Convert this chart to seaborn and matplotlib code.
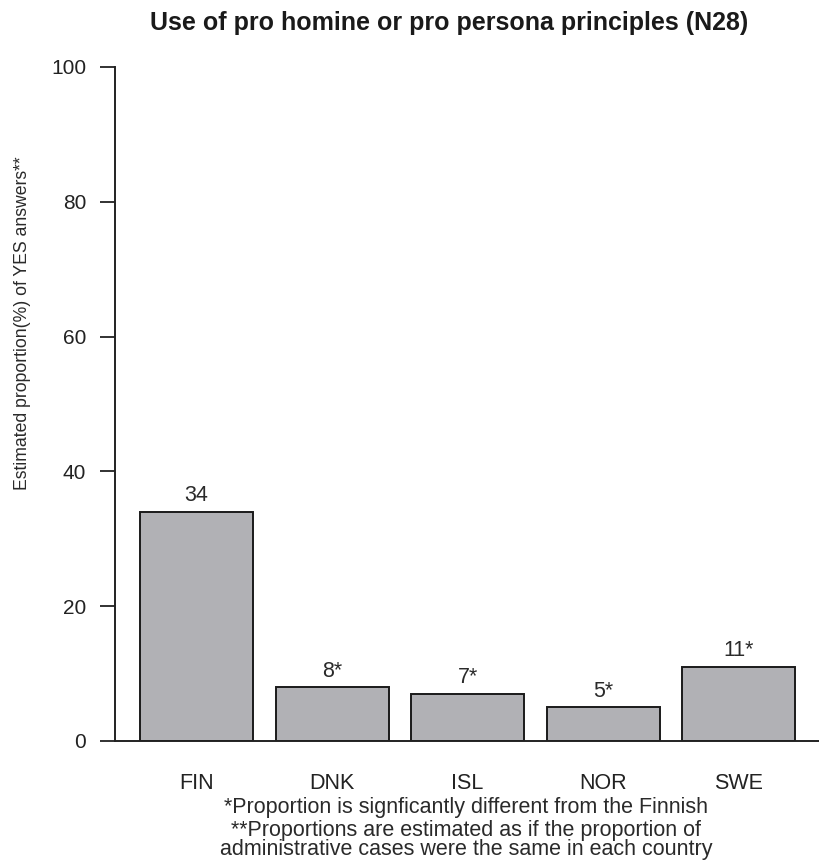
import seaborn as sns
import pandas as pd
import matplotlib.pyplot as plt

countries = ['FIN', 'DNK', 'ISL', 'NOR', 'SWE']
values = [34, 8, 7, 5, 11]
labels = ['34', '8*', '7*', '5*', '11*']

title = 'Use of pro homine or pro persona principles (N28)'
ylabel = 'Estimated proportion(%) of YES answers**'
note1 = '*Proportion is signficantly different from the Finnish'
note2 = '**Proportions are estimated as if the proportion of\nadministrative cases were the same in each country'

sns.set_style('ticks')
plt.rcParams['font.family'] = ['Liberation Sans', 'DejaVu Sans']

df = pd.DataFrame({'country': countries, 'value': values})

fig = plt.figure(figsize=(8.19, 8.65), dpi=100)
# axes box: spine at x=115px, zero line at y=741px, 100 at y=67px
ax = fig.add_axes([115 / 819, 1 - 741 / 865, 1 - 115 / 819, (741 - 67) / 865])

sns.barplot(data=df, x='country', y='value', color='#b1b1b5', saturation=1,
            edgecolor='#1a1a1a', linewidth=1.4, width=0.834, ax=ax)

for i, (v, lab) in enumerate(zip(values, labels)):
    ax.annotate(lab, (i, v), xytext=(0, 4), textcoords='offset points',
                ha='center', va='bottom', fontsize=15.5, color='#2a2a2a')

ax.set_xlim(-0.6015, 4.594)
ax.set_ylim(0, 100)
ax.set_yticks([0, 20, 40, 60, 80, 100])
ax.tick_params(axis='y', length=10.8, width=1.3, labelsize=15, colors='#222222', pad=10)
ax.tick_params(axis='x', length=0, labelsize=15.5, colors='#222222', pad=23)
ax.set_xlabel('')
ax.set_ylabel('')
for s in ['top', 'right']:
    ax.spines[s].set_visible(False)
for s in ['left', 'bottom']:
    ax.spines[s].set_linewidth(1.4)
    ax.spines[s].set_color('#222222')

fig.text(150 / 819, 1 - 30 / 865, title, ha='left', va='baseline',
         fontsize=18, fontweight='bold', color='#1a1a1a')
fig.text(23 / 819, 1 - 323 / 865, ylabel, rotation=90, ha='center', va='center',
         fontsize=12.7, color='#2a2a2a')
fig.text(466 / 819, 1 - 807 / 865, note1, ha='center', va='center',
         fontsize=15.5, color='#2a2a2a')
fig.text(466 / 819, 1 - 840 / 865, note2, ha='center', va='center',
         fontsize=15.5, color='#2a2a2a', linespacing=0.85)

fig.savefig('out.png', dpi=100)
